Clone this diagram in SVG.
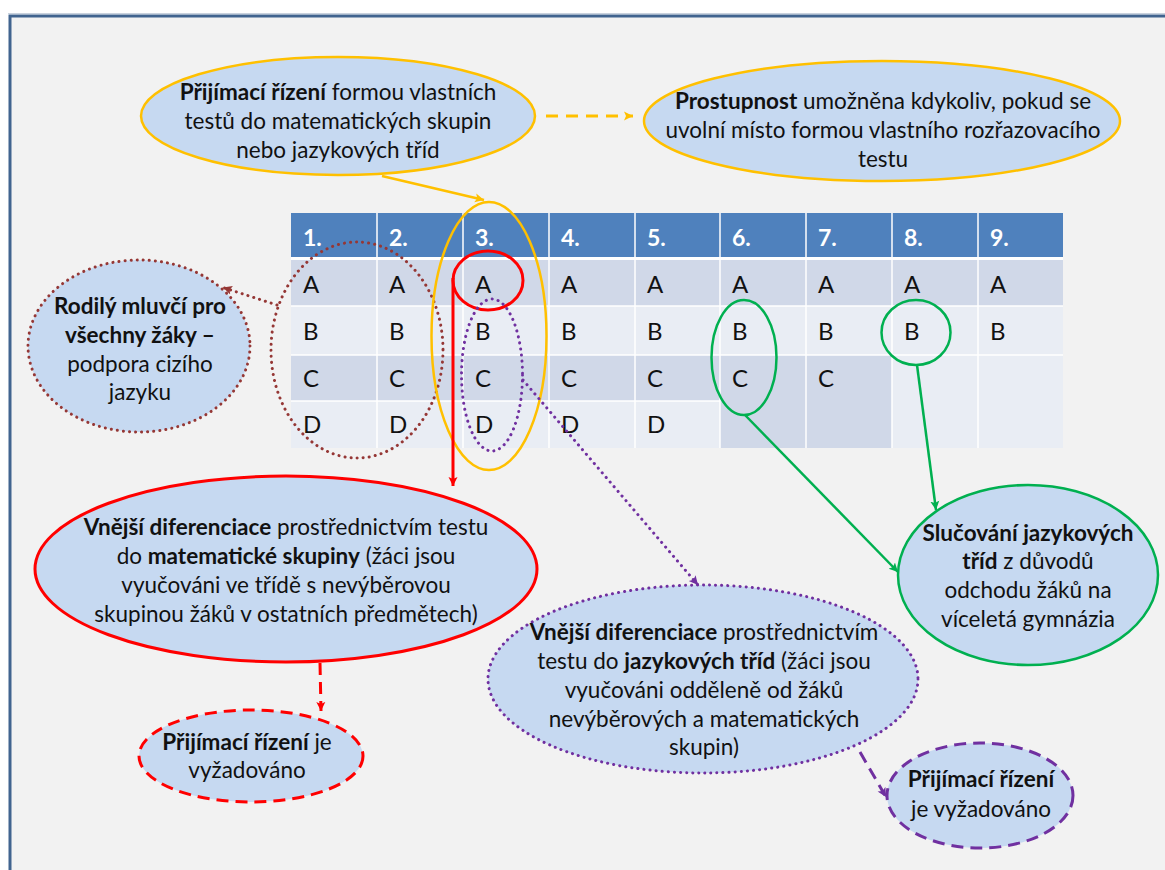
<svg xmlns="http://www.w3.org/2000/svg" width="1165" height="870" viewBox="0 0 1165 870">
<defs>
<style>
text{font-family:"Lato","Liberation Sans",sans-serif;fill:#111;}
.t{font-size:22.5px;text-anchor:middle;}
.b{font-weight:bold;}
.hd{font-size:23px;font-weight:bold;fill:#fff;}
.cl{font-size:24px;fill:#111;}
.yel{stroke:#FFC000;stroke-width:2.5;fill:none;}
.red{stroke:#FF0000;stroke-width:3;fill:none;}
.grn{stroke:#00B050;stroke-width:2.5;fill:none;}
.brn{stroke:#953735;stroke-width:3;stroke-dasharray:0.1 6;stroke-linecap:round;fill:none;}
.pur{stroke:#7030A0;stroke-width:3;stroke-dasharray:0.1 6;stroke-linecap:round;fill:none;}
.purd{stroke:#7030A0;stroke-width:3;stroke-dasharray:12 7;fill:none;}
.redd{stroke:#FF0000;stroke-width:3;stroke-dasharray:12 7;fill:none;}
.yeld{stroke:#FFC000;stroke-width:3;stroke-dasharray:12 8;fill:none;}
.dk{fill:#D0D8E8;}
.lt{fill:#E9EDF4;}
</style>
<marker id="aY" markerUnits="userSpaceOnUse" markerWidth="12" markerHeight="12" refX="9" refY="5" orient="auto"><path d="M0,0.5 L9,5 L0,9.5 L2,5 z" fill="#FFC000"/></marker>
<marker id="aR" markerUnits="userSpaceOnUse" markerWidth="12" markerHeight="12" refX="9" refY="5" orient="auto"><path d="M0,0.5 L9,5 L0,9.5 L2,5 z" fill="#FF0000"/></marker>
<marker id="aG" markerUnits="userSpaceOnUse" markerWidth="12" markerHeight="12" refX="9" refY="5" orient="auto"><path d="M0,0.5 L9,5 L0,9.5 L2,5 z" fill="#00B050"/></marker>
<marker id="aB" markerUnits="userSpaceOnUse" markerWidth="12" markerHeight="12" refX="9" refY="5" orient="auto"><path d="M0,0.5 L9,5 L0,9.5 L2,5 z" fill="#953735"/></marker>
<marker id="aP" markerUnits="userSpaceOnUse" markerWidth="12" markerHeight="12" refX="9" refY="5" orient="auto"><path d="M0,0.5 L9,5 L0,9.5 L2,5 z" fill="#7030A0"/></marker>
</defs>

<rect x="0" y="0" width="1165" height="870" fill="#ffffff"/>
<rect x="10" y="16" width="1200" height="900" fill="#F2F2F2" stroke="#41648F" stroke-width="3"/>
<line x1="8" y1="13.5" x2="1165" y2="13.5" stroke="#C9D2DE" stroke-width="1"/>

<g id="table">
<rect x="291" y="213" width="772" height="44" fill="#4F81BD"/>
<g>
<rect class="dk" x="291" y="260" width="772" height="46"/>
<rect class="lt" x="291" y="306" width="772" height="49"/>
<rect class="dk" x="291" y="355" width="601" height="46"/>
<rect class="lt" x="291" y="401" width="429" height="47"/>
<rect class="dk" x="720" y="401" width="172" height="47"/>
<rect class="lt" x="892" y="355" width="171" height="93"/>
</g>
<g stroke="#ffffff" stroke-width="1.5">
<line x1="291" y1="258.5" x2="1063" y2="258.5" stroke-width="3"/>
<line x1="291" y1="306" x2="1063" y2="306"/>
<line x1="291" y1="355" x2="1063" y2="355"/>
<line x1="291" y1="401" x2="720" y2="401"/>
<line x1="377" y1="213" x2="377" y2="448"/>
<line x1="463" y1="213" x2="463" y2="448"/>
<line x1="549" y1="213" x2="549" y2="448"/>
<line x1="635" y1="213" x2="635" y2="448"/>
<line x1="720" y1="213" x2="720" y2="448"/>
<line x1="806" y1="213" x2="806" y2="448"/>
<line x1="892" y1="213" x2="892" y2="448"/>
<line x1="978" y1="213" x2="978" y2="448"/>
</g>
<g>
<text class="hd" x="303" y="246">1.</text>
<text class="hd" x="389" y="246">2.</text>
<text class="hd" x="475" y="246">3.</text>
<text class="hd" x="561" y="246">4.</text>
<text class="hd" x="647" y="246">5.</text>
<text class="hd" x="732" y="246">6.</text>
<text class="hd" x="818" y="246">7.</text>
<text class="hd" x="904" y="246">8.</text>
<text class="hd" x="990" y="246">9.</text>
</g>
<g>
<text class="cl" x="303" y="293">A</text><text class="cl" x="389" y="293">A</text><text class="cl" x="475" y="293">A</text><text class="cl" x="561" y="293">A</text><text class="cl" x="647" y="293">A</text><text class="cl" x="732" y="293">A</text><text class="cl" x="818" y="293">A</text><text class="cl" x="904" y="293">A</text><text class="cl" x="990" y="293">A</text>
<text class="cl" x="303" y="340">B</text><text class="cl" x="389" y="340">B</text><text class="cl" x="475" y="340">B</text><text class="cl" x="561" y="340">B</text><text class="cl" x="647" y="340">B</text><text class="cl" x="732" y="340">B</text><text class="cl" x="818" y="340">B</text><text class="cl" x="904" y="340">B</text><text class="cl" x="990" y="340">B</text>
<text class="cl" x="303" y="387">C</text><text class="cl" x="389" y="387">C</text><text class="cl" x="475" y="387">C</text><text class="cl" x="561" y="387">C</text><text class="cl" x="647" y="387">C</text><text class="cl" x="732" y="387">C</text><text class="cl" x="818" y="387">C</text>
<text class="cl" x="303" y="433">D</text><text class="cl" x="389" y="433">D</text><text class="cl" x="475" y="433">D</text><text class="cl" x="561" y="433">D</text><text class="cl" x="647" y="433">D</text>
</g>
</g>

<g id="highlights">
<ellipse class="brn" cx="357" cy="350" rx="86" ry="108"/>
<ellipse class="yel" cx="489" cy="336" rx="57.5" ry="134"/>
<ellipse class="red" cx="488" cy="280.5" rx="35" ry="29.5"/>
<ellipse class="pur" cx="492" cy="375" rx="30.5" ry="76"/>
<ellipse class="grn" cx="744" cy="357.5" rx="32.5" ry="57.5"/>
<ellipse class="grn" cx="916" cy="332.5" rx="34.5" ry="32.5"/>
</g>

<g id="node-prijimaci">
<ellipse class="yel" cx="338" cy="116" rx="197" ry="59" style="fill:#C6D9F1"/>
<text class="t" x="338" y="100"><tspan class="b">Přijímací řízení</tspan> formou vlastních</text>
<text class="t" x="338" y="129">testů do matematických skupin</text>
<text class="t" x="338" y="158">nebo jazykových tříd</text>
</g>

<g id="node-prostupnost">
<ellipse class="yel" cx="882" cy="121" rx="238" ry="60" style="fill:#C6D9F1"/>
<text class="t" x="883" y="109"><tspan class="b">Prostupnost</tspan> umožněna kdykoliv, pokud se</text>
<text class="t" x="883" y="138">uvolní místo formou vlastního rozřazovacího</text>
<text class="t" x="883" y="167">testu</text>
</g>

<g id="node-rodily">
<ellipse class="brn" cx="139" cy="346" rx="111" ry="86" style="fill:#C6D9F1"/>
<text class="t b" x="140" y="314">Rodilý mluvčí pro</text>
<text class="t b" x="140" y="343">všechny žáky –</text>
<text class="t" x="140" y="372">podpora cizího</text>
<text class="t" x="140" y="400">jazyku</text>
</g>

<g id="node-matematicke">
<ellipse class="red" cx="286" cy="569" rx="251" ry="93" style="fill:#C6D9F1"/>
<text class="t" x="286" y="535"><tspan class="b">Vnější diferenciace</tspan> prostřednictvím testu</text>
<text class="t" x="286" y="564">do <tspan class="b">matematické skupiny</tspan> (žáci jsou</text>
<text class="t" x="286" y="593">vyučováni ve třídě s nevýběrovou</text>
<text class="t" x="286" y="622">skupinou žáků v ostatních předmětech)</text>
</g>

<g id="node-prijimaci-mat">
<ellipse class="redd" cx="251" cy="756" rx="112" ry="46" style="fill:#C6D9F1"/>
<text class="t" x="247" y="750"><tspan class="b">Přijímací řízení</tspan> je</text>
<text class="t" x="247" y="778">vyžadováno</text>
</g>

<g id="node-jazykove">
<ellipse class="pur" cx="703" cy="679" rx="215" ry="94" style="fill:#C6D9F1"/>
<text class="t" x="704" y="640"><tspan class="b">Vnější diferenciace</tspan> prostřednictvím</text>
<text class="t" x="704" y="669">testu do <tspan class="b">jazykových tříd</tspan> (žáci jsou</text>
<text class="t" x="704" y="698">vyučováni odděleně od žáků</text>
<text class="t" x="704" y="727">nevýběrových a matematických</text>
<text class="t" x="704" y="755">skupin)</text>
</g>

<g id="node-prijimaci-jaz">
<ellipse class="purd" cx="980" cy="795.5" rx="93" ry="52.5" style="fill:#C6D9F1"/>
<text class="t b" x="981" y="787">Přijímací řízení</text>
<text class="t" x="981" y="817">je vyžadováno</text>
</g>

<g id="node-slucovani">
<ellipse class="grn" cx="1028" cy="575" rx="130" ry="90" style="fill:#C6D9F1"/>
<text class="t b" x="1028" y="541">Slučování jazykových</text>
<text class="t" x="1028" y="569"><tspan class="b">tříd</tspan> z důvodů</text>
<text class="t" x="1028" y="598">odchodu žáků na</text>
<text class="t" x="1028" y="627">víceletá gymnázia</text>
</g>

<g id="connectors">
<line class="yeld" x1="546" y1="116" x2="633" y2="116" marker-end="url(#aY)"/>
<line class="yel" x1="382" y1="176" x2="484" y2="200" marker-end="url(#aY)"/>
<line class="red" x1="453" y1="278" x2="453" y2="486" marker-end="url(#aR)"/>
<line class="redd" x1="320" y1="663" x2="321" y2="711" marker-end="url(#aR)"/>
<line class="brn" x1="277" y1="305" x2="223" y2="287.5" marker-end="url(#aB)"/>
<line class="pur" x1="523" y1="380" x2="698" y2="585" marker-end="url(#aP)"/>
<line class="purd" x1="860" y1="752" x2="886" y2="797" marker-end="url(#aP)"/>
<line class="grn" x1="745" y1="415" x2="898" y2="572" marker-end="url(#aG)"/>
<line class="grn" x1="917" y1="365" x2="936" y2="510" marker-end="url(#aG)"/>
</g>
</svg>
